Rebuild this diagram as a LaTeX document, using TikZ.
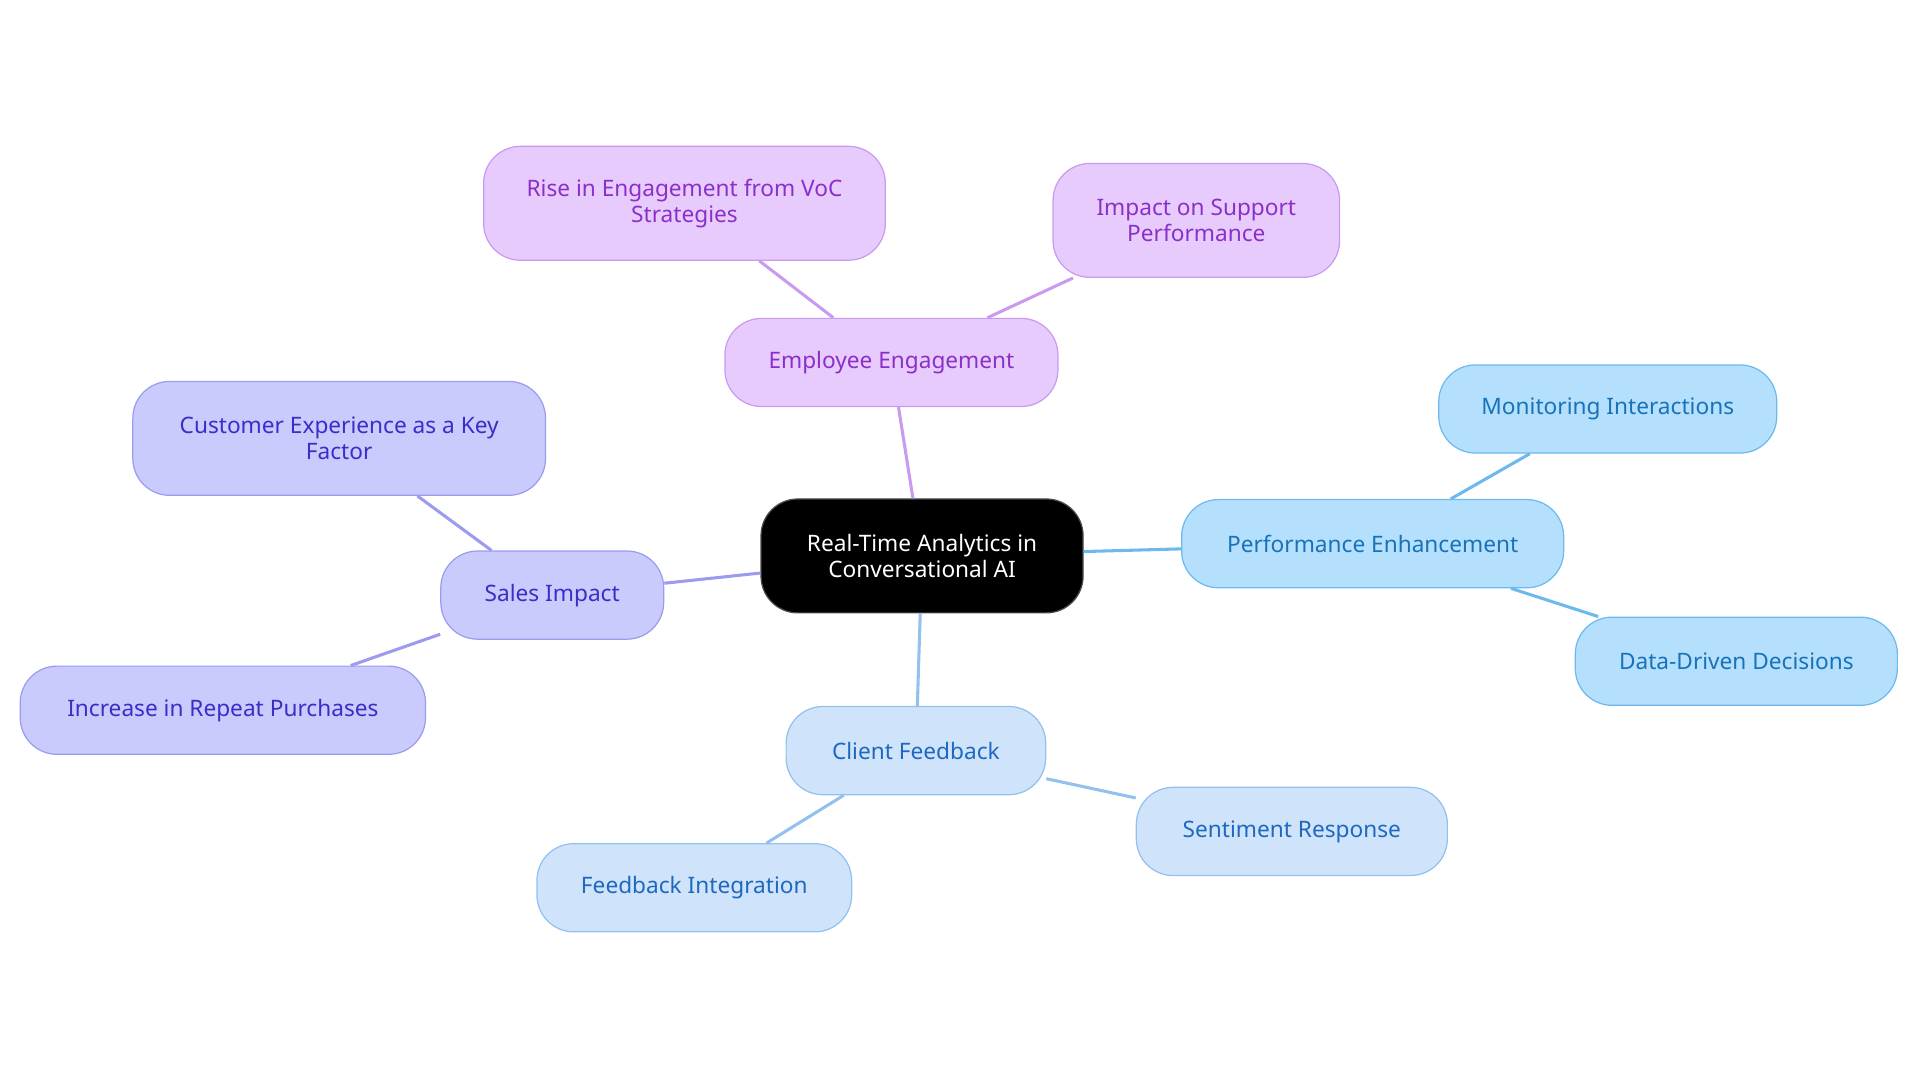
\documentclass[tikz,border=0pt]{standalone}
\usepackage{fontspec}
\setmainfont{Noto Sans}
\begin{document}
\begin{tikzpicture}[x=1pt,y=-1pt,
  box/.style={rounded corners=30pt,line width=1pt,align=center,inner sep=0pt,font=\fontsize{18.5}{21}\selectfont},
  pur/.style={box,fill=purf,draw=purd,text=purt},
  ind/.style={box,fill=indf,draw=indd,text=indt},
  sky/.style={box,fill=skyf,draw=skyd,text=skyt},
  blu/.style={box,fill=bluf,draw=blud,text=blut},
  ln/.style={line width=2.5pt}]
\definecolor{purf}{HTML}{E8CBFD}\definecolor{purd}{HTML}{C99AF0}\definecolor{purt}{HTML}{8B2FC9}
\definecolor{indf}{HTML}{C9CBFD}\definecolor{indd}{HTML}{9C9BEF}\definecolor{indt}{HTML}{3A2DC8}
\definecolor{skyf}{HTML}{B5E0FD}\definecolor{skyd}{HTML}{6DB9EE}\definecolor{skyt}{HTML}{1872B8}
\definecolor{bluf}{HTML}{CFE4FB}\definecolor{blud}{HTML}{94C0EE}\definecolor{blut}{HTML}{1E68C0}
\useasboundingbox (0,0) rectangle (1568,884);
\node[box,fill=black!92!blue!60!black,fill=black,draw=black!70,text=white,minimum width=263pt,minimum height=93pt] (c) at (753,454) {Real-Time Analytics in\\Conversational AI};
\node[pur,minimum width=272pt,minimum height=72pt] (ee) at (728,296) {Employee Engagement};
\node[pur,minimum width=328pt,minimum height=93pt] (r) at (559,166) {Rise in Engagement from VoC\\Strategies};
\node[pur,minimum width=234pt,minimum height=93pt] (i) at (977,180) {Impact on Support\\Performance};
\node[ind,minimum width=182pt,minimum height=72pt] (s) at (451,486) {Sales Impact};
\node[ind,minimum width=337pt,minimum height=93pt] (cx) at (277,358) {Customer Experience as a Key\\Factor};
\node[ind,minimum width=331pt,minimum height=72pt] (rp) at (182,580) {Increase in Repeat Purchases};
\node[sky,minimum width=312pt,minimum height=72pt] (p) at (1121,444) {Performance Enhancement};
\node[sky,minimum width=276pt,minimum height=72pt] (m) at (1313,334) {Monitoring Interactions};
\node[sky,minimum width=263pt,minimum height=72pt] (d) at (1418,540) {Data-Driven Decisions};
\node[blu,minimum width=212pt,minimum height=72pt] (cf) at (748,613) {Client Feedback};
\node[blu,minimum width=254pt,minimum height=72pt] (se) at (1055,679) {Sentiment Response};
\node[blu,minimum width=257pt,minimum height=72pt] (fi) at (567,725) {Feedback Integration};
\draw[ln,purd] (c) -- (ee); \draw[ln,purd] (ee) -- (r); \draw[ln,purd] (ee) -- (i);
\draw[ln,indd] (c) -- (s); \draw[ln,indd] (s) -- (cx); \draw[ln,indd] (s) -- (rp);
\draw[ln,skyd] (c) -- (p); \draw[ln,skyd] (p) -- (m); \draw[ln,skyd] (p) -- (d);
\draw[ln,blud] (c) -- (cf); \draw[ln,blud] (cf) -- (se); \draw[ln,blud] (cf) -- (fi);
\end{tikzpicture}
\end{document}
